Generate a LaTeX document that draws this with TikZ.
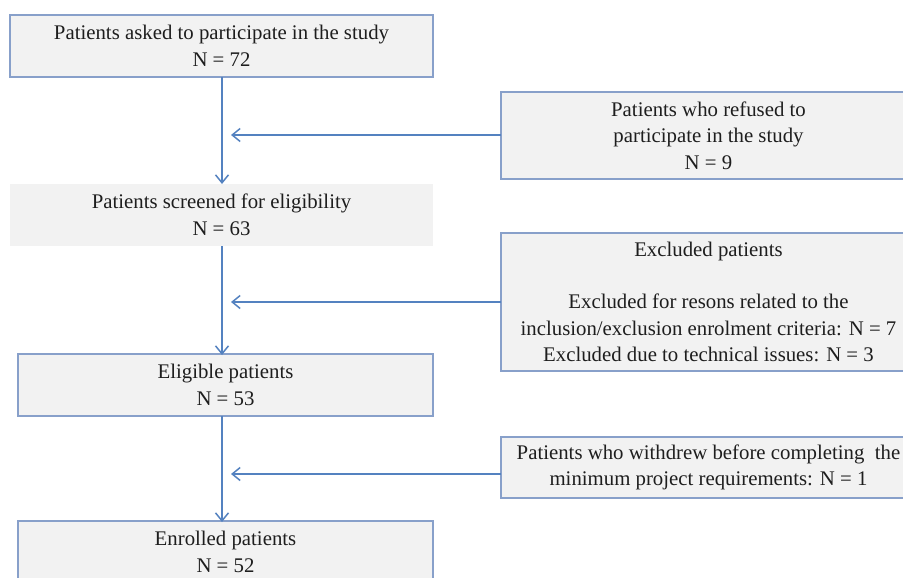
\documentclass[tikz,border=0pt]{standalone}
\usepackage{fontspec}
\setmainfont{Liberation Serif}
\newfontfamily\timesfont{Liberation Serif}
\usetikzlibrary{arrows.meta}
\definecolor{arrowblue}{RGB}{84,130,192}
\definecolor{boxedge}{RGB}{136,160,202}
\definecolor{boxfill}{RGB}{242,242,242}
\definecolor{txt}{RGB}{30,30,30}
\begin{document}
\begin{tikzpicture}[x=1pt,y=-1pt,
  flowbox/.style={draw=boxedge, line width=1.2pt, fill=boxfill, outer sep=0pt, inner sep=0pt,
    text=txt, align=center, font=\timesfont\fontsize{20.8}{26.5}\selectfont},
  plainbox/.style={flowbox, draw=none},
  flowarrow/.style={draw=arrowblue, line width=1.5pt, -{Straight Barb[length=8pt,width=13pt,line width=1.5pt]}},
  flowline/.style={draw=arrowblue, line width=1.5pt}]
\clip (0,0) rectangle (903,578);
\fill[white] (0,0) rectangle (903,578);

% main column
\node[flowbox, minimum width=423pt, minimum height=62pt] (asked) at (221.5,46)
  {Patients asked to participate in the study\\N = 72};
\node[plainbox, minimum width=423pt, minimum height=62pt] (screened) at (221.5,215)
  {Patients screened for eligibility\\N = 63};
\node[flowbox, minimum width=415pt, minimum height=62pt] (eligible) at (225.5,385)
  {Eligible patients\\N = 53};
\node[flowbox, minimum width=415pt, minimum height=62pt] (enrolled) at (225.5,552)
  {Enrolled patients\\N = 52};

% side column
\node[flowbox, minimum width=415pt, minimum height=87pt] (refused) at (708.5,135.5)
  {Patients who refused to\\participate in the study\\N = 9};
\node[flowbox, minimum width=415pt, minimum height=138pt] (excluded) at (708.5,302)
  {Excluded patients\\[26pt]Excluded for resons related to the\\inclusion/exclusion enrolment criteria: N = 7\\Excluded due to technical issues: N = 3};
\node[flowbox, minimum width=415pt, minimum height=61pt] (withdrew) at (708.5,467.5)
  {Patients who withdrew before completing\ \ the\\minimum project requirements: N = 1};

% join points on the main line
\coordinate (j1) at (231,135);
\coordinate (j2) at (231,302);
\coordinate (j3) at (231,474);

% vertical arrows
\draw[flowarrow] (asked.south -| 222,0) -- (screened.north -| 222,0);
\draw[flowarrow] (screened.south -| 222,0) -- ([yshift=-1pt]eligible.north -| 222,0);
\draw[flowarrow] (eligible.south -| 222,0) -- ([yshift=-1pt]enrolled.north -| 222,0);

% horizontal arrows
\draw[flowarrow] (refused.west |- j1) -- (j1);
\draw[flowarrow] (excluded.west |- j2) -- (j2);
\draw[flowarrow] (withdrew.west |- j3) -- (j3);
\end{tikzpicture}
\end{document}
